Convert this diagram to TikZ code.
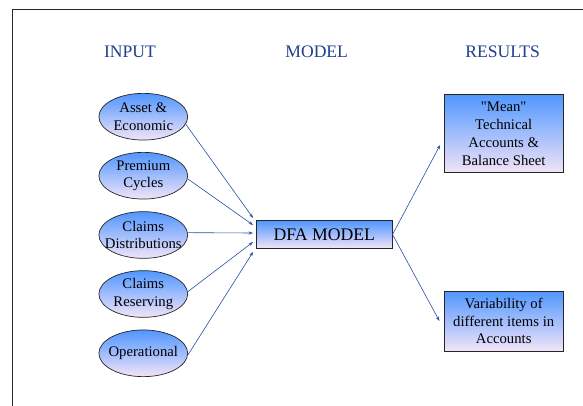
\documentclass[tikz,border=0pt]{standalone}
\usepackage{fontspec}
\setmainfont{Liberation Serif}
\font\plainq="Liberation Serif" at 14.7pt
\usetikzlibrary{arrows.meta,shapes.geometric,calc}
\definecolor{topblue}{RGB}{80,150,255}
\definecolor{botpink}{RGB}{242,228,248}
\definecolor{hdrblue}{RGB}{31,63,143}
\definecolor{linkblue}{RGB}{40,80,165}
\definecolor{framegray}{RGB}{40,40,40}
\begin{document}
\begin{tikzpicture}[x=1pt,y=-1pt,
 ell/.style={ellipse, draw=black!85, line width=0.7pt, top color=topblue, bottom color=botpink, minimum width=88.8pt, minimum height=46.7pt, inner sep=0pt},
 lbl/.style={font=\fontsize{14.7}{17.5}\selectfont, align=center, inner sep=0pt},
 box/.style={draw=black!85, line width=0.8pt, top color=topblue, bottom color=botpink, inner sep=0pt, align=center},
 hdr/.style={text=hdrblue, font=\fontsize{17.6}{20}\selectfont, inner sep=0pt},
 arr/.style={draw=linkblue, line width=0.6pt, -{Stealth[length=4.5pt,width=3.2pt]}}]
\useasboundingbox (0,0) rectangle (583,406);
\clip (0,0) rectangle (583,406);
\fill[white] (0,0) rectangle (583,406);
\draw[framegray, line width=1.3pt] (12.2,430) -- (12.2,9.5) -- (630,9.5);
% headers
\node[hdr] (hin) at (130,51.7) {INPUT};
\node[hdr] (hmod) at (316.7,51.7) {MODEL};
\node[hdr] (hres) at (502.6,51.7) {RESULTS};
% inputs
\node[ell, label={[lbl]center:Asset \&\\Economic}] (a) at (143.3,116.7) {};
\node[ell, label={[lbl]center:Premium\\Cycles}] (b) at (143.3,175.7) {};
\node[ell, label={[lbl]center:Claims\\Distributions}] (c) at (143.3,235) {};
\node[ell, label={[lbl]center:Claims\\Reserving}] (d) at (143.3,294) {};
\node[ell, label={[lbl]center:Operational}] (e) at (143.3,353.3) {};
% model
\node[box, minimum width=135.7pt, minimum height=27.6pt, font=\fontsize{17.7}{20}\selectfont] (dfa) at (324.3,234.5) {DFA MODEL};
% results
\node[box, minimum width=119pt, minimum height=78.4pt, font=\fontsize{14.7}{18}\selectfont] (mean) at (503.7,133.5) {{\plainq"}Mean{\plainq"}\\Technical\\Accounts \&\\Balance Sheet};
\node[box, minimum width=119pt, minimum height=60pt, font=\fontsize{14.7}{17.5}\selectfont] (var) at (503.7,321) {Variability of\\different items in\\Accounts};
% connectors
\draw[arr] (a.-10) -- ([xshift=-3pt,yshift=16.5pt]dfa.west);
\draw[arr] (b.-4) -- ([xshift=-3pt,yshift=9.5pt]dfa.west);
\draw[arr] (c.3) -- ([xshift=-3pt,yshift=1.5pt]dfa.west);
\draw[arr] (d.3) -- ([xshift=-3pt,yshift=-7.5pt]dfa.west);
\draw[arr] (e.-2) -- ([xshift=-3pt,yshift=-17.5pt]dfa.west);
\draw[arr] (dfa.east) -- ([xshift=-3.7pt,yshift=-11.5pt]mean.west);
\draw[arr] (dfa.east) -- ([xshift=-4.4pt]var.west);
\end{tikzpicture}
\end{document}
